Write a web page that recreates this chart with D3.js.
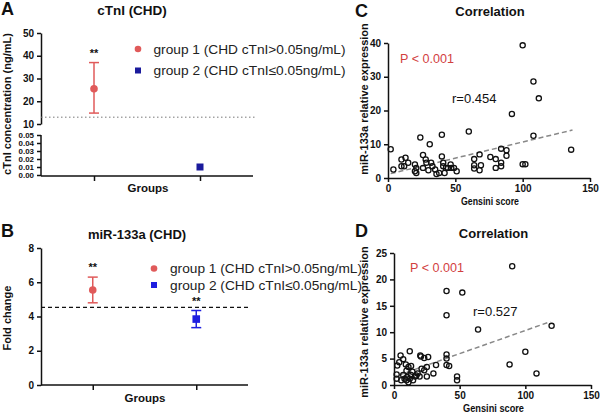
<!DOCTYPE html>
<html><head><meta charset="utf-8">
<script src="https://cdn.jsdelivr.net/npm/d3@7"></script>
<style>
body{margin:0;background:#fff;}
svg{display:block;font-family:"Liberation Sans",Arial,sans-serif;}
.tick text{font-weight:bold;font-size:10px;fill:#111;}
.low .tick text{font-size:6.8px;}
.axis path,.axis line{stroke:#111;stroke-width:1.5;}
</style></head><body>
<svg id="c" width="600" height="415"></svg>
<script>
// ---- data ----
const groups = ["group 1", "group 2"];
const legendLabels = ["group 1 (CHD cTnI>0.05ng/mL)", "group 2 (CHD cTnI\u22640.05ng/mL)"];
// Panel A: cTnI concentration (ng/mL)
const cTnIMean = [25.5, 0.010];
const cTnILow = [14.8, null];
const cTnIHigh = [37.0, null];
const cTnIRef = 13;
const aUpperTicks = [10, 20, 30, 40, 50];
const aLowerTicks = [0, 0.01, 0.02, 0.03, 0.04, 0.05];
// Panel B: miR-133a fold change
const foldMean = [5.55, 3.85];
const foldLow = [4.8, 3.35];
const foldHigh = [6.3, 4.35];
const foldRef = 4.53;
const bTicks = [0, 2, 4, 6, 8];
// Panel C: Gensini score vs miR-133a
const cX = [2,4,10,13,10,12,15,20,21,20,21,24,26,28,28.5,31,26,30,32,33,35,36,38,40,40,41,41,43,42,44.5,46.5,47,49,51,60,64,64,64,68,69,68,76,80,80,84,84,84,88,88,92,100,108,112,108,100,102,136];
const cY = [8.5,2.5,5.5,6,3.5,3.5,4.5,4,3,2,1.5,12,6.8,5.5,4.5,10,3,2.3,4.5,3.5,2.5,1.2,1.5,12.8,6.4,4.5,3.5,3,1.5,3,4,3,3,2,13.8,5.6,3.8,2.8,7,3.8,2.3,6.2,5.6,3,8.7,4.5,3.5,8.2,6.6,19,39.3,28.6,23.6,12.5,4.1,4.1,8.4];
const cFit = [[2, 1.3], [137, 14.2]];
const cTicksX = [0, 50, 100, 150];
const cTicksY = [0, 10, 20, 30, 40];
// Panel D: Gensini score vs miR-133a
const dX = [90,40,52,40,64,120,100,88,108.5,5,2.5,2,12,4,7,9,11,9.5,7,5.5,9.5,12,13,16,14.5,18,19.5,20,20.5,23,26,25,23,21,30,32,25,40,40,40,42,48,48,2,10,14,17,11,13,8];
const dY = [22.5,17.8,17.5,13.2,10.5,11.2,6.3,3.9,2.2,5.6,3.7,1.2,6.4,4.3,4.9,3.9,3.4,2.7,1.9,0.9,0.9,1.2,1.9,1.6,0.9,2.2,1.6,5.6,5.4,5.1,5.3,3.4,2.8,3.1,2.2,3.8,1.6,5.8,5,3.8,3.6,1.6,0.9,2,1.5,2.5,1.8,0.5,3.6,1.2];
const dFit = [[4, 1.9], [119, 12.0]];
const dTicksX = [0, 50, 100, 150];
const dTicksY = [0, 5, 10, 15, 20, 25];

const RED = "#e05a5a", NAVY = "#1a1a9c", BLUE = "#1e1ee0", PRED = "#d2403f";
const svg = d3.select("#c");

function txt(x, y, s, opts) {
  const t = svg.append("text").attr("x", x).attr("y", y).text(s)
    .attr("font-size", opts.size || 12).attr("font-weight", opts.bold ? "bold" : "normal")
    .attr("fill", opts.fill || "#111").attr("text-anchor", opts.anchor || "start");
  if (opts.len) t.attr("textLength", opts.len).attr("lengthAdjust", "spacingAndGlyphs");
  if (opts.rot) t.attr("transform", `rotate(-90,${x},${y})`);
  return t;
}

// ===== Panel A =====
const xA = d3.scalePoint().domain(groups).range([41, 253]).padding(0.5);
const yAu = d3.scaleLinear().domain([10, 50]).range([124, 33]);
const yAl = d3.scaleLinear().domain([0, 0.05]).range([175, 135]);
svg.append("g").attr("class", "axis").attr("transform", "translate(41,0)")
  .call(d3.axisLeft(yAu).tickValues(aUpperTicks).tickSize(4).tickSizeOuter(0).tickFormat(d3.format("d")));
const lowAx = svg.append("g").attr("class", "axis low").attr("transform", "translate(41,0)")
  .call(d3.axisLeft(yAl).tickValues(aLowerTicks).tickSize(4).tickSizeOuter(0).tickFormat(d3.format(".2f")));
lowAx.select(".domain").attr("d", `M0,${yAl(0.05)}V176`);
lowAx.selectAll(".tick text").attr("textLength", 15.5).attr("lengthAdjust", "spacingAndGlyphs");
svg.append("g").attr("class", "axis").attr("transform", "translate(0,176)")
  .call(d3.axisBottom(xA).tickSize(5).tickSizeOuter(0).tickFormat(""))
  .select(".domain").attr("d", "M41,0H253");
svg.append("line").attr("x1", 41).attr("x2", 255).attr("y1", yAu(cTnIRef)).attr("y2", yAu(cTnIRef))
  .attr("stroke", "#777").attr("stroke-width", 1).attr("stroke-dasharray", "1.5,2.5");
{
  const x = xA(groups[0]);
  const g = svg.append("g").attr("stroke", RED).attr("stroke-width", 1.5);
  g.append("line").attr("x1", x).attr("x2", x).attr("y1", yAu(cTnILow[0])).attr("y2", yAu(cTnIHigh[0]));
  [cTnILow[0], cTnIHigh[0]].forEach(v => g.append("line").attr("x1", x - 5).attr("x2", x + 5).attr("y1", yAu(v)).attr("y2", yAu(v)));
  svg.append("circle").attr("cx", x).attr("cy", yAu(cTnIMean[0])).attr("r", 3.8).attr("fill", RED);
  txt(x, yAu(cTnIHigh[0]) - 6, "**", {size: 11, bold: true, anchor: "middle"});
  const x2 = xA(groups[1]);
  svg.append("rect").attr("x", x2 - 3.5).attr("y", yAl(cTnIMean[1]) - 3.5).attr("width", 7).attr("height", 7).attr("fill", NAVY);
}
txt(132, 15, "cTnI (CHD)", {size: 13.5, bold: true, anchor: "middle"});
txt(1, 15, "A", {size: 18, bold: true});
txt(11, 104, "cTnI concentration (ng/mL)", {size: 11, bold: true, anchor: "middle", rot: true});
txt(148, 192, "Groups", {size: 11.5, bold: true, anchor: "middle"});
svg.append("circle").attr("cx", 138).attr("cy", 49).attr("r", 3.3).attr("fill", RED);
txt(153.5, 53.5, legendLabels[0], {size: 13, fill: "#222", len: 192});
svg.append("rect").attr("x", 135).attr("y", 67.5).attr("width", 6).attr("height", 6).attr("fill", NAVY);
txt(153.5, 75, legendLabels[1], {size: 13, fill: "#222", len: 192});

// ===== Panel B =====
const xB = d3.scalePoint().domain(groups).range([41, 248]).padding(0.5);
const yB = d3.scaleLinear().domain([0, 8]).range([385, 248]);
svg.append("g").attr("class", "axis").attr("transform", "translate(41,0)")
  .call(d3.axisLeft(yB).tickValues(bTicks).tickSize(4).tickSizeOuter(0));
svg.append("g").attr("class", "axis").attr("transform", "translate(0,385)")
  .call(d3.axisBottom(xB).tickSize(5).tickSizeOuter(0).tickFormat(""))
  .select(".domain").attr("d", "M41,0H248");
svg.append("line").attr("x1", 41).attr("x2", 250).attr("y1", yB(foldRef)).attr("y2", yB(foldRef))
  .attr("stroke", "#111").attr("stroke-width", 1.3).attr("stroke-dasharray", "4,3");
groups.forEach((gname, i) => {
  const x = xB(gname), col = i === 0 ? RED : BLUE;
  const g = svg.append("g").attr("stroke", col).attr("stroke-width", 1.5);
  g.append("line").attr("x1", x).attr("x2", x).attr("y1", yB(foldLow[i])).attr("y2", yB(foldHigh[i]));
  [foldLow[i], foldHigh[i]].forEach(v => g.append("line").attr("x1", x - 5).attr("x2", x + 5).attr("y1", yB(v)).attr("y2", yB(v)));
  if (i === 0) svg.append("circle").attr("cx", x).attr("cy", yB(foldMean[i])).attr("r", 3.8).attr("fill", col);
  else svg.append("rect").attr("x", x - 3.8).attr("y", yB(foldMean[i]) - 3.8).attr("width", 7.6).attr("height", 7.6).attr("fill", col);
  txt(x, yB(foldHigh[i]) - 6, "**", {size: 11, bold: true, anchor: "middle"});
});
txt(137, 239, "miR-133a (CHD)", {size: 13, bold: true, anchor: "middle"});
txt(1, 237, "B", {size: 18, bold: true});
txt(11, 318, "Fold change", {size: 11, bold: true, anchor: "middle", rot: true});
txt(145, 402, "Groups", {size: 11.5, bold: true, anchor: "middle"});
svg.append("circle").attr("cx", 154).attr("cy", 268.5).attr("r", 3.3).attr("fill", RED);
txt(170, 273, legendLabels[0], {size: 13, fill: "#222", len: 192});
svg.append("rect").attr("x", 151).attr("y", 282).attr("width", 6).attr("height", 6).attr("fill", BLUE);
txt(170, 289.5, legendLabels[1], {size: 13, fill: "#222", len: 192});

// ===== Scatter panels =====
function scatter(o) {
  const x = d3.scaleLinear().domain([0, 150]).range([o.x0, o.x1]);
  const y = d3.scaleLinear().domain([0, o.ymax]).range([o.y0, o.y1]);
  svg.append("g").attr("class", "axis").attr("transform", `translate(${o.x0},0)`)
    .call(d3.axisLeft(y).tickValues(o.ty).tickSize(4).tickSizeOuter(0));
  svg.append("g").attr("class", "axis").attr("transform", `translate(0,${o.y0})`)
    .call(d3.axisBottom(x).tickValues(o.tx).tickSize(4).tickSizeOuter(0));
  svg.append("line").attr("x1", x(o.fit[0][0])).attr("y1", y(o.fit[0][1]))
    .attr("x2", x(o.fit[1][0])).attr("y2", y(o.fit[1][1]))
    .attr("stroke", "#888").attr("stroke-width", 1.5).attr("stroke-dasharray", "5,3");
  svg.append("g").selectAll("circle").data(o.xs).join("circle")
    .attr("cx", d => x(d)).attr("cy", (d, i) => y(o.ys[i])).attr("r", 2.6)
    .attr("fill", "none").attr("stroke", "#111").attr("stroke-width", 1.3);
  txt((o.x0 + o.x1) / 2 + 1, o.ty0, "Correlation", {size: 13, bold: true, anchor: "middle"});
  txt(355, o.ly, o.letter, {size: 18, bold: true});
  txt(368, o.yc, "miR-133a relative expression", {size: 11, bold: true, anchor: "middle", rot: true});
  txt((o.x0 + o.x1) / 2 + 1, o.y0 + 27, "Gensini score", {size: 11.5, bold: true, anchor: "middle", len: o.glen});
  txt(o.px, o.py, "P < 0.001", {size: 13, fill: PRED, len: 54});
  txt(o.rx, o.ry, o.r, {size: 13, fill: "#111"});
}
scatter({x0: 388, x1: 590, y0: 178, y1: 43, ymax: 40, tx: cTicksX, ty: cTicksY, xs: cX, ys: cY, fit: cFit,
  letter: "C", ly: 17, ty0: 16, yc: 99, glen: 58, px: 400, py: 63, rx: 452, ry: 103, r: "r=0.454"});
scatter({x0: 394, x1: 591, y0: 385, y1: 253, ymax: 25, tx: dTicksX, ty: dTicksY, xs: dX, ys: dY, fit: dFit,
  letter: "D", ly: 237, ty0: 238, yc: 322, glen: 61, px: 410, py: 271.5, rx: 473, ry: 316, r: "r=0.527"});
</script></body></html>
